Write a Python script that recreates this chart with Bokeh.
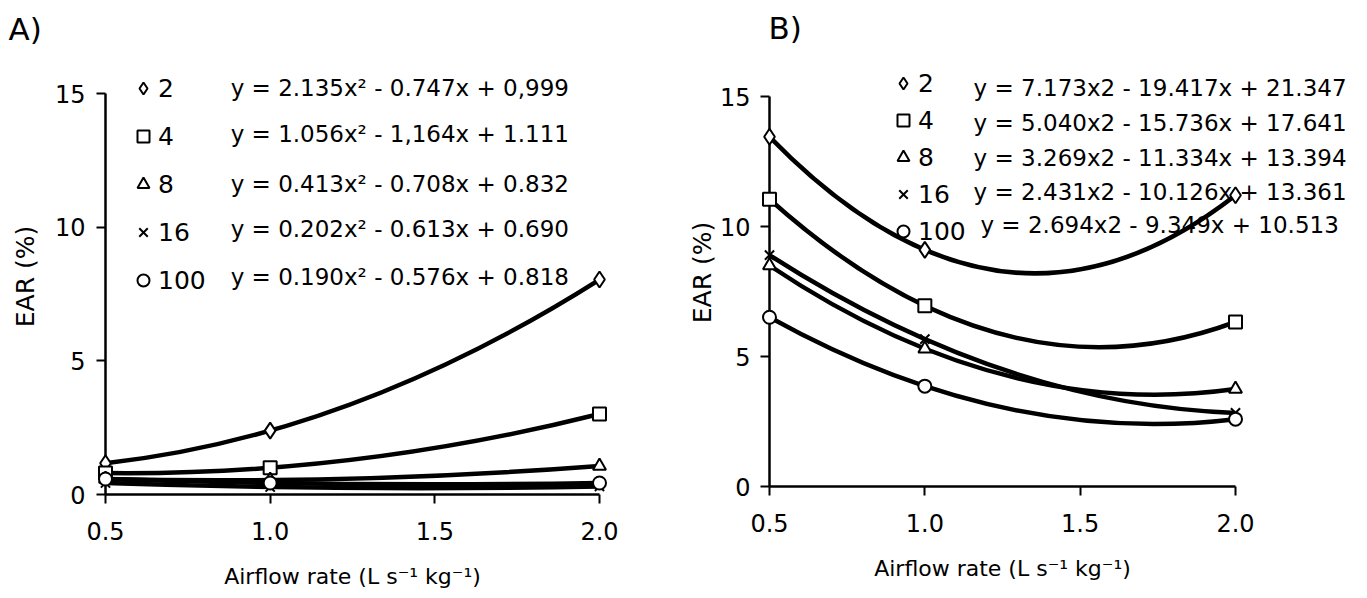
import numpy as np
from bokeh.plotting import figure
from bokeh.layouts import row
from bokeh.models import (FixedTicker, Legend, LegendItem,
                          NumeralTickFormatter, Range1d)
from bokeh.core.properties import value
from bokeh.embed import file_html
from bokeh.resources import INLINE

FONT = "DejaVu Sans"

# ---------------- data ----------------
airflow = [0.5, 1.0, 2.0]
series_labels = ["2", "4", "8", "16", "100"]
series_markers = ["diamond", "square", "triangle", "x", "circle"]
series_sizes = [16, 13, 13, 13, 13]
x_ticks = [0.5, 1.0, 1.5, 2.0]
y_ticks = [0, 5, 10, 15]

# Panel A : EAR (%)
a_ear_2 = [1.17, 2.39, 8.04]
a_ear_4 = [0.80, 1.00, 3.01]
a_ear_8 = [0.58, 0.54, 1.07]
a_ear_16 = [0.43, 0.28, 0.30]
a_ear_100 = [0.58, 0.43, 0.43]
a_equations = [
    "y = 2.135x\u00b2 - 0.747x + 0,999",
    "y = 1.056x\u00b2 - 1,164x + 1.111",
    "y = 0.413x\u00b2 - 0.708x + 0.832",
    "y = 0.202x\u00b2 - 0.613x + 0.690",
    "y = 0.190x\u00b2 - 0.576x + 0.818",
]

# Panel B : EAR (%)
b_ear_2 = [13.45, 9.10, 11.20]
b_ear_4 = [11.05, 6.95, 6.33]
b_ear_8 = [8.50, 5.30, 3.75]
b_ear_16 = [8.90, 5.67, 2.83]
b_ear_100 = [6.51, 3.86, 2.59]
b_equations = [
    "y = 7.173x2 - 19.417x + 21.347",
    "y = 5.040x2 - 15.736x + 17.641",
    "y = 3.269x2 - 11.334x + 13.394",
    "y = 2.431x2 - 10.126x + 13.361",
    "y = 2.694x2 -  9.349x + 10.513",
]

x_title = "Airflow rate (L s\u207b\u00b9 kg\u207b\u00b9)"
y_title = "EAR (%)"


def make_panel(series, equations, tag, dims, y_top, legend_geom, eq_x, eq_y,
               tag_pos, ylabel_standoff, ytitle_standoff):
    (bl, fw, br, bt, fh, bb) = dims
    p = figure(output_backend="svg", toolbar_location=None,
               frame_width=fw, frame_height=fh,
               min_border_left=bl, min_border_right=br,
               min_border_top=bt, min_border_bottom=bb,
               x_range=Range1d(0.5, 2.0), y_range=Range1d(0, y_top))
    p.outline_line_color = None
    p.grid.visible = False
    p.background_fill_color = "white"

    for ax in (p.xaxis[0], p.yaxis[0]):
        ax.axis_line_width = 2.5
        ax.axis_line_color = "black"
        ax.major_tick_line_width = 2
        ax.major_tick_line_color = "black"
        ax.major_tick_in = 0
        ax.major_tick_out = 9
        ax.minor_tick_line_color = None
        ax.major_label_text_font = FONT
        ax.major_label_text_font_size = "24px"
        ax.major_label_text_color = "black"
        ax.axis_label_text_font = FONT
        ax.axis_label_text_font_style = "normal"
        ax.axis_label_text_color = "black"
    p.xaxis.axis_label_text_font_size = "22px"
    p.yaxis.axis_label_text_font_size = "25px"
    p.xaxis.ticker = FixedTicker(ticks=x_ticks)
    p.xaxis.formatter = NumeralTickFormatter(format="0.0")
    p.yaxis.ticker = FixedTicker(ticks=y_ticks)
    p.yaxis.bounds = (0, 15)
    p.xaxis.bounds = (0.5, 2.0)
    p.xaxis.axis_label = x_title
    p.yaxis.axis_label = y_title
    p.xaxis.major_label_standoff = 18
    p.xaxis.axis_label_standoff = 21
    p.yaxis.major_label_standoff = ylabel_standoff
    p.yaxis.axis_label_standoff = ytitle_standoff

    items = []
    for vals, lab, mk, sz in zip(series, series_labels, series_markers,
                                 series_sizes):
        # quadratic trendline through the points (as in the source chart)
        a, b, c = np.polyfit(airflow, vals, 2)
        x0, x1 = airflow[0], airflow[-1]
        y0 = a * x0 ** 2 + b * x0 + c
        y1 = a * x1 ** 2 + b * x1 + c
        cx = (x0 + x1) / 2
        cy = y0 + (2 * a * x0 + b) * (x1 - x0) / 2
        p.quadratic(x0=[x0], y0=[y0], x1=[x1], y1=[y1], cx=[cx], cy=[cy],
                    line_color="black", line_width=4.5)
        r = p.scatter(airflow, vals, marker=mk, size=sz,
                      line_color="black", line_width=2, fill_color="white",
                      level="overlay")
        items.append(LegendItem(label=lab, renderers=[r]))

    (vx, vy, spacing) = legend_geom
    leg = Legend(items=items, location=(vx, vy), orientation="vertical",
                 glyph_width=30, glyph_height=30, label_height=30,
                 spacing=spacing, padding=0, margin=0, label_standoff=0,
                 border_line_color=None, background_fill_alpha=0,
                 label_text_font=FONT, label_text_font_size="25px",
                 label_text_color="black")
    p.add_layout(leg)

    p.text(x=eq_x, y=eq_y, text=equations, text_font=value(FONT),
           text_font_size=value("23px"), text_color="black",
           text_baseline="middle", text_align="left", level="overlay")

    p.text(x=[tag_pos[0]], y=[tag_pos[1]], text=[tag], text_font=value(FONT),
           text_font_size=value("31px"), text_color="black",
           text_baseline="middle", text_align="left", level="overlay")
    return p


a_series = [a_ear_2, a_ear_4, a_ear_8, a_ear_16, a_ear_100]
b_series = [b_ear_2, b_ear_4, b_ear_8, b_ear_16, b_ear_100]

# both frames start at the same height (a row aligns the plot frames)
pa = make_panel(a_series, a_equations, "A)",
                dims=(105, 494, 83, 58, 436, 100), y_top=436 / (401 / 15),
                legend_geom=(23, 199, 18),
                eq_x=[0.88] * 5,
                eq_y=[15.19, 13.50, 11.63, 9.95, 8.12],
                tag_pos=(0.2055, 17.43), ylabel_standoff=11,
                ytitle_standoff=12)

pb = make_panel(b_series, b_equations, "B)",
                dims=(87, 466, 125, 58, 428, 100), y_top=428 / 26.0,
                legend_geom=(119, 240, 7),
                eq_x=[1.157, 1.157, 1.157, 1.157, 1.179],
                eq_y=[15.31, 14.0, 12.65, 11.31, 10.04],
                tag_pos=(0.497, 17.62), ylabel_standoff=10,
                ytitle_standoff=0)

layout = row(pa, pb)
open("out.html", "w").write(file_html(layout, INLINE))
